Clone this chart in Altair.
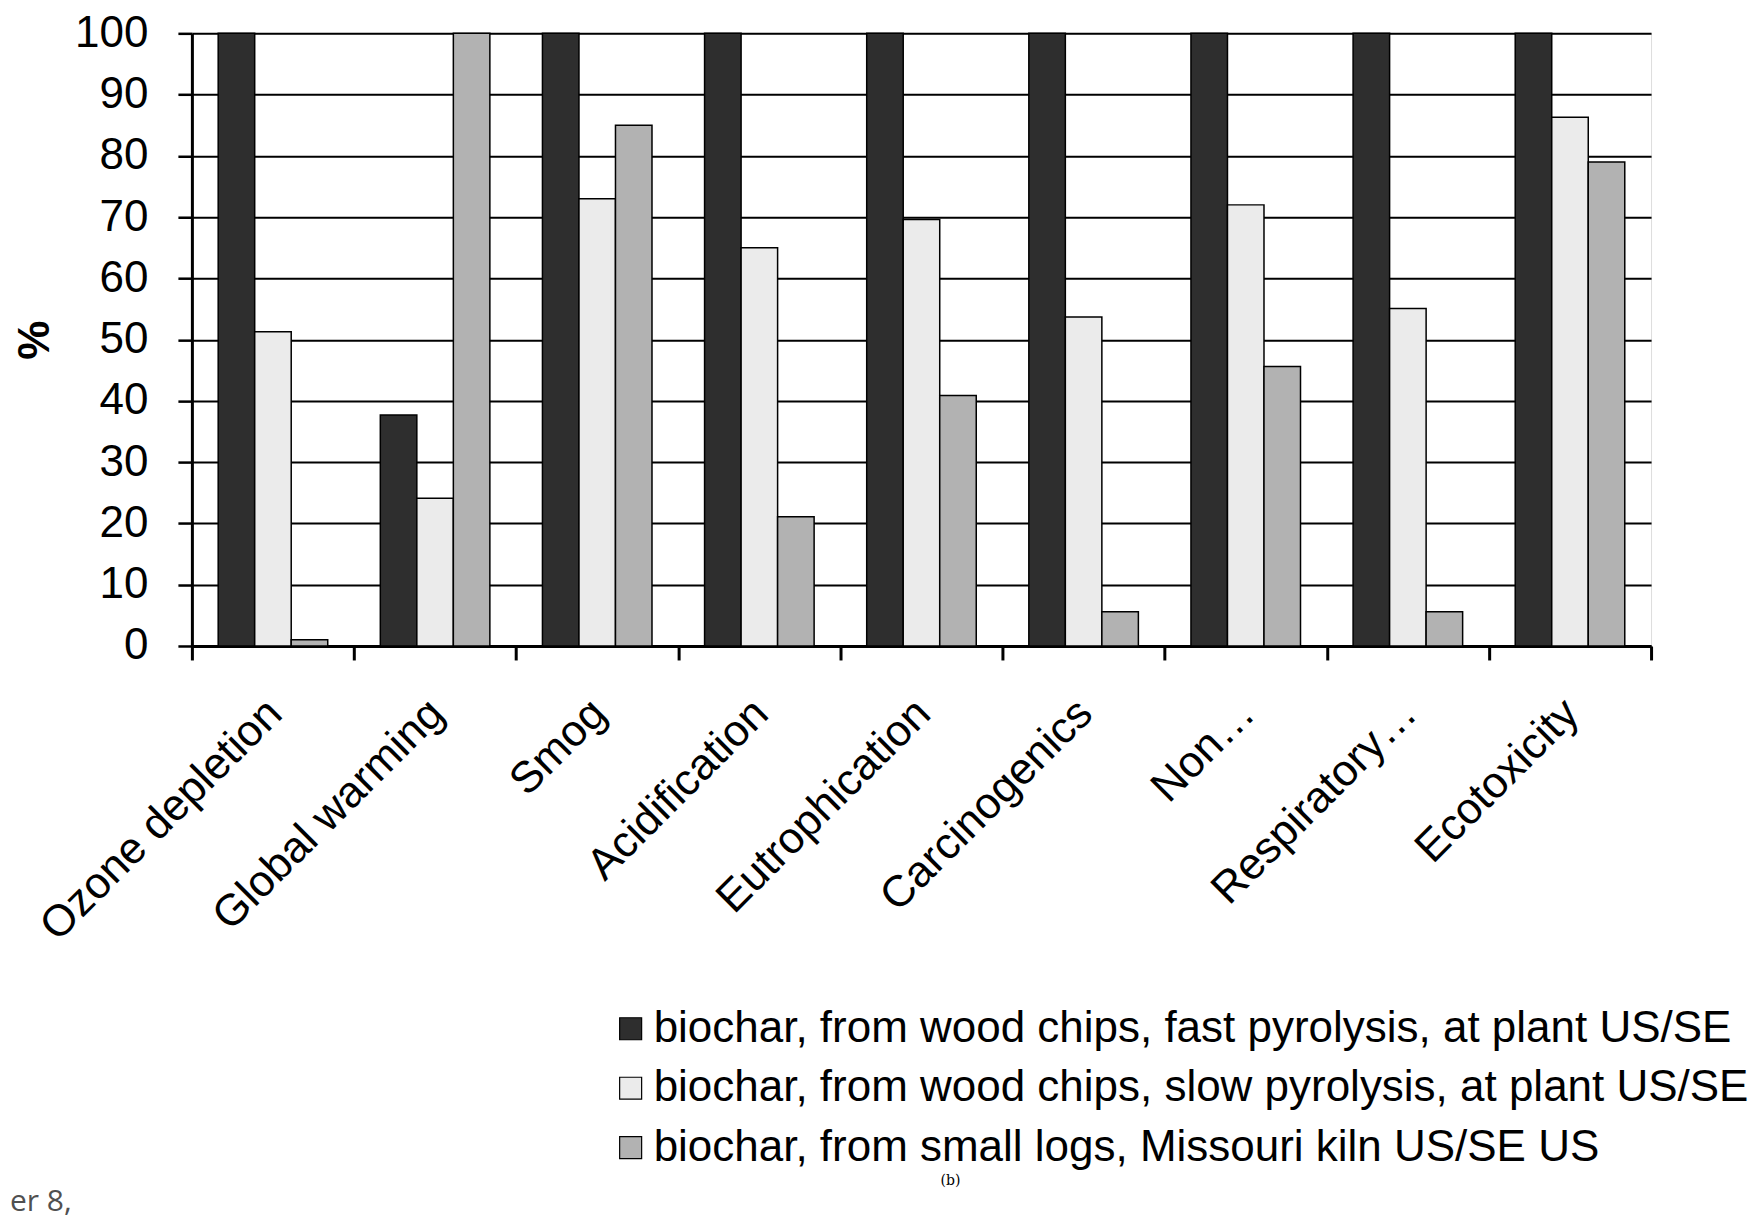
import altair as alt
import pandas as pd

categories = ["Ozone depletion", "Global warming", "Smog", "Acidification",
              "Eutrophication", "Carcinogenics", "Non…", "Respiratory…", "Ecotoxicity"]
series = ["biochar, from wood chips, fast pyrolysis, at plant US/SE",
          "biochar, from wood chips, slow pyrolysis, at plant US/SE",
          "biochar, from small logs, Missouri kiln  US/SE US"]
fast = [100, 37.7, 100, 100, 100, 100, 100, 100, 100]
slow = [51.3, 24.1, 73.0, 65.0, 69.6, 53.7, 72.0, 55.1, 86.3]
kiln = [1.0, 100, 85.0, 21.1, 40.9, 5.6, 45.6, 5.6, 79.0]
y_ticks = list(range(0, 101, 10))
fills = ["#2e2e2e", "#ebebeb", "#b2b2b2"]
note_b = "(b)"
note_page = "er 8,"

rows = []
for s, vals in zip(series, [fast, slow, kiln]):
    for c, v in zip(categories, vals):
        rows.append({"category": c, "series": s, "value": v})
df = pd.DataFrame(rows)

FONT = "Liberation Sans"

bars = alt.Chart(df).mark_bar(stroke="black", strokeWidth=1.5).encode(
    x=alt.X("category:N", sort=categories,
            scale=alt.Scale(paddingInner=0, paddingOuter=0),
            axis=alt.Axis(title=None, labelAngle=-45, labelFontSize=44, labelFont=FONT,
                          labelColor="black", labelPadding=31, labelOffset=-14,
                          tickBand="extent",
                          tickSize=14, tickWidth=3, tickColor="black",
                          domainColor="black", domainWidth=3, labelLimit=600)),
    xOffset=alt.XOffset("series:N", sort=series,
                        scale=alt.Scale(paddingInner=0, paddingOuter=0.72)),
    y=alt.Y("value:Q", scale=alt.Scale(domain=[0, 100], nice=False),
            axis=alt.Axis(title="%", values=y_ticks, labelFontSize=44, labelFont=FONT,
                          labelColor="black", labelPadding=30, tickSize=14, tickWidth=2.5,
                          tickColor="black", domainColor="black", domainWidth=3,
                          grid=True, gridColor="black", gridWidth=2, gridOpacity=1,
                          titleFont=FONT, titleFontSize=44, titleFontWeight="bold",
                          titleColor="black", titlePadding=17)),
    fill=alt.Fill("series:N", sort=series,
                  scale=alt.Scale(domain=series, range=fills),
                  legend=alt.Legend(title=None, orient="none", legendX=417, legendY=974,
                                    symbolType="square", symbolSize=484,
                                    symbolStrokeColor="black", symbolStrokeWidth=1.2,
                                    labelFontSize=44, labelFont=FONT, labelColor="black",
                                    labelLimit=1400, labelOffset=1, rowPadding=15.5,
                                    padding=0)),
)

notes = pd.DataFrame({"t": [note_b]})
b_text = alt.Chart(notes).mark_text(font="DejaVu Serif", fontSize=14, color="black").encode(
    text="t:N", x=alt.value(759), y=alt.value(1148))
page = pd.DataFrame({"t": [note_page]})
page_text = alt.Chart(page).mark_text(font="Open Sans", fontSize=30, color="#505050",
                                       align="left", baseline="alphabetic").encode(
    text="t:N", x=alt.value(-182), y=alt.value(1178))

chart = alt.layer(bars, b_text, page_text).properties(
    width=1460, height=613,
    autosize=alt.AutoSizeParams(type="none"),
    padding={"left": 184, "top": 25, "right": 100, "bottom": 575},
).configure_view(stroke="black", strokeWidth=2).configure(background="white")

chart.save("out.html", embed_options={"renderer": "svg", "actions": False})
